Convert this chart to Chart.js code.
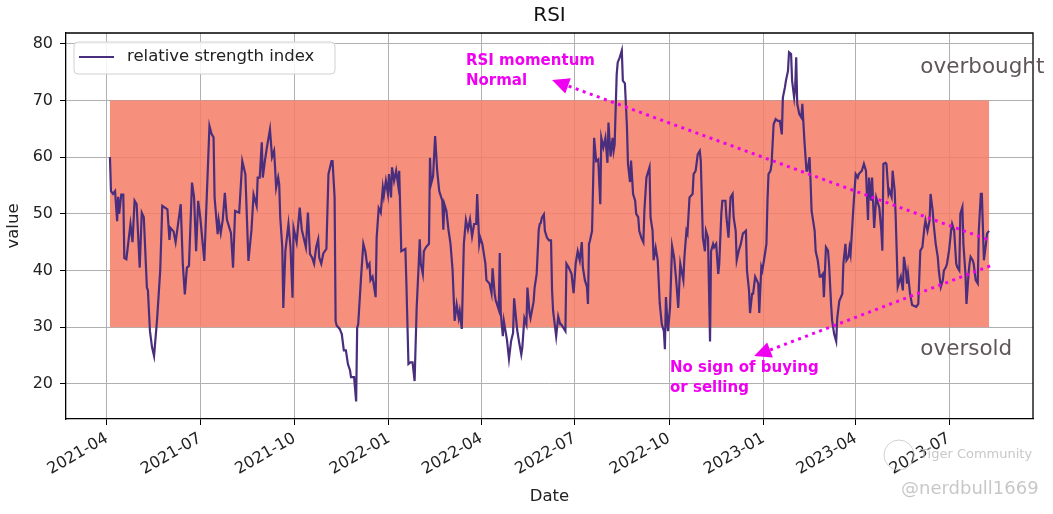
<!DOCTYPE html>
<html>
<head>
<meta charset="utf-8">
<script src="https://cdn.jsdelivr.net/npm/chart.js@4.4.1/dist/chart.umd.min.js"></script>
<style>
  html, body { margin: 0; padding: 0; background: #fff; }
  #wrap { width: 1053px; height: 514px; }
</style>
</head>
<body>
<div id="wrap"><canvas id="rsiChart" width="1053" height="514"></canvas></div>
<script>
// days counted from 2021-04-01
const days = [
  3, 4, 6, 8, 10, 11, 12, 14, 16, 17, 19, 23, 25, 27, 29, 32, 34, 36, 39, 40,
  42, 44, 46, 49, 52, 54, 59, 61, 62, 65, 67, 72, 74, 76, 78, 80, 83, 85, 87, 89,
  91, 95, 100, 102, 104, 105, 108, 109, 111, 113, 115, 117, 121, 123, 125, 129, 132, 135, 138, 141,
  143, 146, 147, 149, 151, 152, 154, 156, 159, 161, 163, 164, 165, 167, 168, 169, 171, 172, 174, 177,
  179, 181, 182, 185, 188, 190, 194, 196, 198, 200, 202, 204, 206, 207, 209, 211, 214, 216, 219, 220,
  222, 223, 224, 227, 229, 231, 233, 235, 237, 238, 241, 243, 244, 245, 248, 250, 252, 254, 256, 257,
  259, 262, 263, 265, 267, 269, 270, 272, 274, 275, 277, 278, 280, 282, 284, 285, 287, 291, 292, 294,
  296, 298, 300, 302, 304, 305, 306, 308, 309, 311, 314, 315, 316, 318, 320, 322, 324, 327, 328, 329,
  331, 333, 335, 337, 339, 341, 343, 344, 346, 348, 350, 352, 354, 356, 358, 360, 361, 363, 364, 366,
  369, 370, 373, 375, 376, 378, 379, 382, 383, 384, 386, 387, 390, 392, 394, 396, 397, 400, 402, 404,
  405, 407, 409, 410, 412, 413, 416, 417, 419, 421, 422, 423, 424, 426, 427, 429, 431, 433, 434, 435,
  437, 438, 440, 442, 443, 445, 447, 448, 450, 453, 455, 457, 459, 461, 463, 464, 466, 468, 469, 470,
  471, 473, 475, 477, 479, 481, 482, 484, 486, 488, 489, 491, 493, 494, 495, 497, 498, 500, 502, 503,
  505, 507, 508, 510, 511, 513, 515, 516, 518, 519, 521, 523, 524, 526, 529, 530, 532, 533, 535, 537,
  539, 541, 543, 544, 545, 547, 549, 551, 553, 555, 557, 559, 562, 563, 565, 566, 568, 571, 572, 574,
  576, 578, 579, 581, 583, 584, 586, 588, 589, 591, 592, 594, 596, 597, 599, 600, 603, 604, 606, 608,
  610, 611, 613, 614, 616, 618, 620, 623, 624, 626, 627, 629, 630, 632, 635, 636, 638, 639, 641, 643,
  644, 645, 647, 648, 650, 652, 654, 656, 658, 659, 661, 662, 664, 665, 667, 668, 670, 671, 672, 673,
  675, 677, 678, 680, 682, 683, 685, 686, 687, 690, 691, 693, 695, 696, 698, 699, 701, 703, 704, 706,
  707, 709, 711, 712, 714, 717, 718, 720, 721, 723, 724, 725, 728, 730, 732, 733, 736, 738, 740, 742,
  743, 745, 746, 748, 750, 751, 753, 755, 756, 757, 759, 760, 762, 763, 765, 766, 768, 769, 771, 772,
  774, 776, 777, 779, 780, 781, 783, 785, 789, 791, 793, 795, 797, 798, 800, 802, 803, 805, 806, 808,
  810, 811, 813, 815, 816, 818, 819, 821, 823, 824, 826, 828, 829, 831, 832, 834, 835, 837, 838, 840,
  841, 842, 844, 845, 847, 849, 850, 852, 853, 855, 857, 858, 860
];
const rsi = [
  60.0, 54.0, 53.5, 54.0, 48.7, 53.0, 50.0, 53.4, 53.4, 42.2, 42.0, 48.2, 45.0, 52.3, 51.7, 40.5, 50.2, 49.4, 37.0, 36.5,
  29.3, 26.5, 24.9, 31.5, 40.0, 51.4, 50.8, 45.4, 47.5, 46.9, 45.0, 51.7, 41.2, 35.8, 40.5, 40.8, 55.5, 52.9, 43.4, 52.3,
  49.4, 41.7, 65.5, 64.1, 63.5, 52.9, 46.4, 48.9, 46.6, 49.0, 53.7, 49.0, 46.6, 40.5, 50.5, 50.2, 59.3, 57.0, 41.7, 47.2,
  53.4, 51.4, 56.4, 56.4, 62.6, 56.4, 59.3, 61.7, 64.9, 60.0, 61.1, 58.1, 54.6, 56.4, 55.2, 49.4, 44.1, 33.4, 43.4, 48.2,
  44.1, 35.2, 47.5, 45.0, 51.1, 47.2, 44.1, 50.2, 42.9, 42.3, 41.2, 44.1, 45.5, 42.3, 41.2, 43.0, 43.8, 57.0, 59.3, 59.3,
  52.9, 31.1, 30.3, 29.7, 28.8, 25.9, 25.9, 23.5, 22.4, 21.2, 21.2, 16.9, 29.9, 30.5, 39.4, 44.7, 43.3, 40.6, 41.2, 38.3,
  38.9, 35.3, 45.8, 51.0, 50.2, 54.6, 53.2, 55.8, 53.5, 57.0, 52.9, 58.2, 55.8, 57.6, 55.0, 57.6, 43.4, 43.8, 37.7, 23.5,
  23.8, 23.8, 20.5, 33.4, 41.2, 45.5, 41.2, 39.4, 43.4, 44.1, 44.7, 59.9, 55.2, 56.6, 63.7, 57.6, 54.0, 52.3, 47.2, 51.7,
  50.5, 47.2, 44.7, 40.1, 31.1, 34.0, 31.6, 32.8, 29.7, 44.7, 48.9, 47.2, 49.0, 46.0, 48.2, 48.2, 53.5, 44.7, 45.8, 44.7,
  41.2, 38.3, 37.7, 36.0, 40.4, 36.0, 34.8, 33.1, 43.1, 32.5, 28.4, 31.1, 27.8, 24.4, 27.5, 29.0, 35.1, 29.5, 27.2, 25.2,
  26.4, 31.6, 30.5, 37.0, 32.5, 31.6, 34.5, 37.0, 39.4, 47.2, 48.2, 48.4, 49.3, 49.9, 47.0, 45.8, 45.3, 45.3, 36.5, 32.9,
  29.9, 28.4, 31.9, 30.5, 30.5, 29.9, 29.3, 41.2, 40.6, 39.4, 36.0, 41.2, 43.4, 41.8, 45.0, 40.6, 38.3, 37.1, 34.1, 44.7,
  45.3, 47.0, 63.4, 59.3, 59.6, 51.7, 63.4, 61.7, 63.4, 59.0, 66.1, 60.1, 63.4, 61.1, 62.2, 74.6, 76.7, 77.6, 78.8, 73.5,
  73.0, 65.4, 58.8, 55.6, 59.4, 53.5, 52.3, 50.0, 49.4, 47.0, 45.8, 45.0, 50.5, 56.4, 58.2, 49.4, 47.0, 41.8, 44.0, 41.8,
  34.1, 30.5, 29.3, 26.1, 35.3, 29.3, 33.4, 44.3, 42.3, 38.3, 33.4, 41.2, 38.3, 42.3, 47.0, 46.5, 52.9, 53.5, 57.0, 57.6,
  60.5, 61.1, 59.3, 45.8, 43.4, 47.0, 45.8, 27.5, 43.4, 44.7, 44.1, 44.7, 39.4, 41.2, 50.0, 52.3, 52.3, 49.4, 45.8, 52.9,
  53.5, 49.4, 47.0, 41.8, 43.5, 44.7, 46.5, 47.0, 40.0, 36.5, 32.5, 35.9, 35.9, 38.9, 37.7, 32.5, 40.6, 40.0, 42.3, 44.7,
  52.3, 57.0, 57.6, 58.8, 65.8, 66.7, 66.4, 66.4, 64.0, 70.5, 72.3, 73.5, 75.2, 78.5, 78.2, 73.5, 70.5, 72.3, 77.6, 69.4,
  67.6, 67.0, 69.4, 62.9, 57.6, 57.6, 60.0, 55.8, 50.5, 47.0, 43.4, 41.8, 38.9, 38.9, 39.4, 35.3, 44.1, 43.5, 41.2, 34.1,
  31.2, 28.8, 27.5, 31.6, 34.6, 35.9, 41.2, 44.7, 41.8, 42.4, 44.0, 42.9, 51.8, 57.0, 56.4, 57.0, 57.6, 58.8, 57.6, 48.9,
  56.4, 52.3, 56.4, 47.5, 52.9, 52.3, 51.1, 47.0, 43.5, 58.8, 59.0, 58.8, 53.5, 54.1, 53.0, 57.6, 54.1, 49.4, 37.1, 37.7,
  38.9, 36.5, 42.4, 40.0, 37.7, 39.4, 35.9, 33.9, 33.6, 34.1, 43.5, 44.1, 47.6, 48.8, 47.0, 48.8, 53.5, 50.6, 48.2, 44.7,
  42.4, 40.0, 37.1, 38.3, 40.0, 40.6, 41.2, 43.5, 47.0, 48.2, 47.0, 41.2, 40.6, 40.0, 50.0, 51.2, 44.7, 39.4, 34.1, 39.4,
  41.2, 42.4, 41.8, 41.2, 38.3, 37.7, 47.0, 53.5, 53.5, 41.8, 44.7, 46.5, 47.0
];

const tickDays = [0, 91, 183, 275, 365, 456, 548, 640, 730, 821];
const tickLabels = ['2021-04', '2021-07', '2021-10', '2022-01', '2022-04', '2022-07', '2022-10', '2023-01', '2023-04', '2023-07'];
const yTicks = [20, 30, 40, 50, 60, 70, 80];

const bandLow = 30;
const bandHigh = 70;

// annotation arrows: [tailDay, tailValue, tipDay, tipValue]
const arrowUpper = [858, 45.5, 434, 73.6];
const arrowLower = [861, 40.8, 631, 24.9];
const noteUpper = ['RSI momentum', 'Normal'];
const noteLower = ['No sign of buying', 'or selling'];

Chart.defaults.font.family = "'DejaVu Sans', sans-serif";
Chart.defaults.color = '#222';

const dMin = Math.min(...days), dMax = Math.max(...days);
const vMin = Math.min(...rsi), vMax = Math.max(...rsi);
const xPad = (dMax - dMin) * 0.05, yPad = (vMax - vMin) * 0.05;

const lineColor = '#4a2e7e';
const magenta = '#f000f0';

// salmon band, drawn over the grid but under the line
const bandPlugin = {
  id: 'band',
  beforeDatasetsDraw(chart) {
    const {ctx, scales: {x, y}} = chart;
    const x0 = x.getPixelForValue(dMin), x1 = x.getPixelForValue(dMax);
    const y0 = y.getPixelForValue(bandHigh), y1 = y.getPixelForValue(bandLow);
    ctx.save();
    ctx.fillStyle = 'rgba(244,126,103,0.86)';
    ctx.fillRect(x0, y0, x1 - x0, y1 - y0);
    ctx.restore();
  }
};

function drawArrow(ctx, x, y, a) {
  const tx = x.getPixelForValue(a[0]), ty = y.getPixelForValue(a[1]);
  const hx = x.getPixelForValue(a[2]), hy = y.getPixelForValue(a[3]);
  const ang = Math.atan2(hy - ty, hx - tx);
  const headLen = 17, headW = 8;
  const bx = hx - Math.cos(ang) * headLen, by = hy - Math.sin(ang) * headLen;
  ctx.save();
  ctx.strokeStyle = magenta;
  ctx.lineWidth = 3;
  ctx.setLineDash([3, 4.5]);
  ctx.beginPath();
  ctx.moveTo(tx, ty);
  ctx.lineTo(bx, by);
  ctx.stroke();
  ctx.setLineDash([]);
  ctx.fillStyle = magenta;
  ctx.beginPath();
  ctx.moveTo(hx, hy);
  ctx.lineTo(bx - Math.sin(ang) * headW, by + Math.cos(ang) * headW);
  ctx.lineTo(bx + Math.sin(ang) * headW, by - Math.cos(ang) * headW);
  ctx.closePath();
  ctx.fill();
  ctx.restore();
}

function drawLines(ctx, lines, px, py, gap) {
  lines.forEach((t, i) => ctx.fillText(t, px, py + i * gap));
}

const overlayPlugin = {
  id: 'overlay',
  afterDraw(chart) {
    const {ctx, chartArea: ca, scales: {x, y}} = chart;
    ctx.save();

    // top and right spines
    ctx.strokeStyle = '#000';
    ctx.lineWidth = 1.3;
    ctx.beginPath();
    ctx.moveTo(ca.left, ca.top);
    ctx.lineTo(ca.right, ca.top);
    ctx.lineTo(ca.right, ca.bottom);
    ctx.stroke();

    // arrows and notes
    drawArrow(ctx, x, y, arrowUpper);
    drawArrow(ctx, x, y, arrowLower);
    ctx.fillStyle = magenta;
    ctx.font = "bold 15px 'DejaVu Sans'";
    ctx.textBaseline = 'middle';
    ctx.textAlign = 'left';
    drawLines(ctx, noteUpper, x.getPixelForValue(350), y.getPixelForValue(77.0), 20);
    drawLines(ctx, noteLower, x.getPixelForValue(549), y.getPixelForValue(22.8), 20);

    // zone labels
    ctx.fillStyle = '#5e5658';
    ctx.font = "21.5px 'DejaVu Sans'";
    ctx.fillText('overbought', x.getPixelForValue(793), y.getPixelForValue(75.9));
    ctx.fillText('oversold', x.getPixelForValue(793), y.getPixelForValue(26.1));

    // legend
    const lx = ca.left + 8, ly = ca.top + 9, lw = 261, lh = 32;
    ctx.fillStyle = 'rgba(255,255,255,0.85)';
    ctx.strokeStyle = '#d0d0d0';
    ctx.lineWidth = 1;
    ctx.beginPath();
    ctx.roundRect(lx, ly, lw, lh, 4);
    ctx.fill();
    ctx.stroke();
    ctx.strokeStyle = lineColor;
    ctx.lineWidth = 2.2;
    ctx.beginPath();
    ctx.moveTo(lx + 5, ly + 15);
    ctx.lineTo(lx + 40, ly + 15);
    ctx.stroke();
    ctx.fillStyle = '#222';
    ctx.font = "16.5px 'DejaVu Sans'";
    ctx.fillText('relative strength index', lx + 53, ly + 15);

    // watermark
    ctx.strokeStyle = 'rgba(190,190,190,0.7)';
    ctx.lineWidth = 1;
    ctx.beginPath();
    ctx.arc(899, 455, 15, 0, Math.PI * 2);
    ctx.stroke();
    ctx.fillStyle = 'rgba(185,185,185,0.8)';
    ctx.font = "13px 'DejaVu Sans'";
    ctx.fillText('Tiger Community', 920, 455);
    ctx.font = "18px 'DejaVu Sans'";
    ctx.fillText('@nerdbull1669', 901, 489);

    ctx.restore();
  }
};

new Chart(document.getElementById('rsiChart').getContext('2d'), {
  type: 'line',
  data: {
    datasets: [{
      label: 'relative strength index',
      data: days.map((d, i) => ({x: d, y: rsi[i]})),
      borderColor: lineColor,
      borderWidth: 2.2,
      pointRadius: 0,
      tension: 0,
      fill: false
    }]
  },
  options: {
    responsive: false,
    animation: false,
    devicePixelRatio: 1,
    layout: { padding: { left: 0, right: 20, top: 0, bottom: 0 } },
    plugins: {
      legend: { display: false },
      tooltip: { enabled: false },
      title: {
        display: true,
        fullSize: false,
        text: 'RSI',
        color: '#111',
        font: { size: 20, weight: 'normal' },
        padding: { top: 4, bottom: 5 }
      }
    },
    scales: {
      x: {
        type: 'linear',
        min: dMin - xPad,
        max: dMax + xPad,
        afterBuildTicks: s => { s.ticks = tickDays.map(v => ({value: v})); },
        afterFit: s => { s.height = 95; },
        ticks: {
          autoSkip: false,
          minRotation: 30,
          maxRotation: 30,
          padding: 4,
          font: { size: 16 },
          color: '#222',
          callback: (v, i) => tickLabels[i]
        },
        grid: { color: '#b0b0b0', lineWidth: 1, tickLength: 6, tickColor: '#000' },
        border: { color: '#000', width: 1.3 },
        title: { display: true, text: 'Date', font: { size: 16.5 }, color: '#222', padding: { top: 0, bottom: 7 } }
      },
      y: {
        min: vMin - yPad,
        max: vMax + yPad,
        afterBuildTicks: s => { s.ticks = yTicks.map(v => ({value: v})); },
        afterFit: s => { s.width = 66; },
        ticks: { padding: 7, font: { size: 16 }, color: '#222', callback: v => String(v) },
        grid: { color: '#b0b0b0', lineWidth: 1, tickLength: 6, tickColor: '#000' },
        border: { color: '#000', width: 1.3 },
        title: { display: true, text: 'value', font: { size: 16.5 }, color: '#222', padding: { top: 4, bottom: 0 } }
      }
    }
  },
  plugins: [bandPlugin, overlayPlugin]
});
</script>
</body>
</html>
